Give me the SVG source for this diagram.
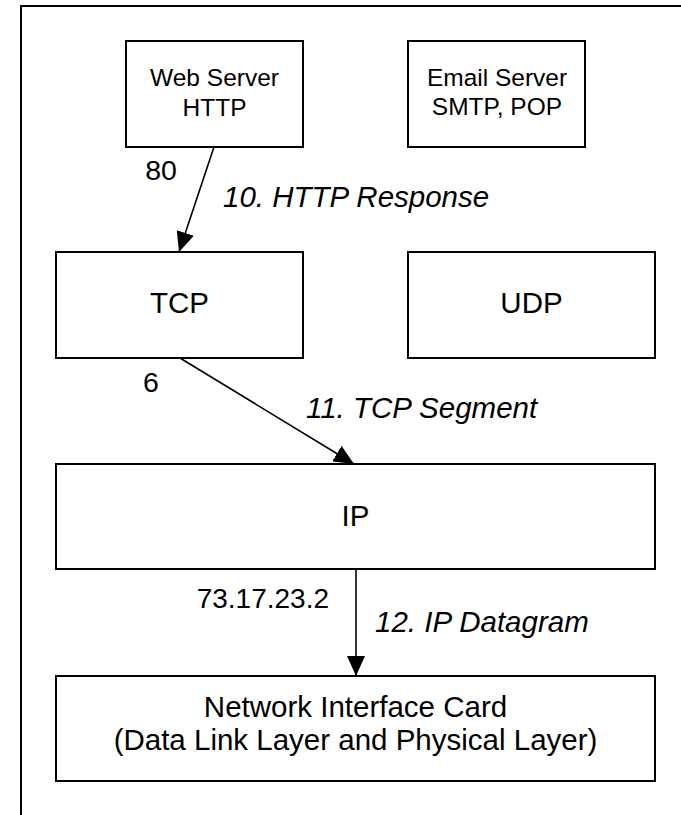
<svg xmlns="http://www.w3.org/2000/svg" width="681" height="815" viewBox="0 0 681 815">
<style>
.box{fill:#fff;stroke:#000;stroke-width:2}
.t{font-family:"Liberation Sans",Arial,sans-serif;fill:#000;text-anchor:middle}
.s24{font-size:24.5px}
.s28{font-size:29.5px}
.n{font-size:28.5px}
.it{font-style:italic;text-anchor:start}
.conn{stroke:#000;stroke-width:1.6;fill:none}
</style>
<defs>
<marker id="ah" markerUnits="userSpaceOnUse" markerWidth="20" markerHeight="18" refX="20" refY="9" orient="auto">
<path d="M0,0 L20,9 L0,18 z" fill="#000"/>
</marker>
</defs>
<rect width="681" height="815" fill="#fff"/>
<g id="frame">
<path d="M21,815 V6 H681" fill="none" stroke="#000" stroke-width="2"/>
</g>
<g id="web-server">
<rect class="box" x="126" y="41" width="177" height="106"/>
<text class="t s24" x="214.5" y="86">Web Server</text>
<text class="t s24" x="214.5" y="116">HTTP</text>
</g>
<g id="email-server">
<rect class="box" x="408" y="41" width="177" height="106"/>
<text class="t s24" x="497" y="86">Email Server</text>
<text class="t s24" x="497" y="115">SMTP, POP</text>
</g>
<g id="tcp">
<rect class="box" x="56" y="252" width="247" height="106"/>
<text class="t s28" x="179.5" y="313">TCP</text>
</g>
<g id="udp">
<rect class="box" x="408" y="252" width="247" height="106"/>
<text class="t s28" x="531.5" y="313">UDP</text>
</g>
<g id="ip">
<rect class="box" x="56" y="464" width="599" height="105"/>
<text class="t s28" x="355.5" y="526">IP</text>
</g>
<g id="nic">
<rect class="box" x="56" y="676" width="599" height="105"/>
<text class="t s28" x="355.5" y="717">Network Interface Card</text>
<text class="t s28" x="355.5" y="750">(Data Link Layer and Physical Layer)</text>
</g>
<g id="connectors">
<line class="conn" x1="214" y1="147" x2="179" y2="252" marker-end="url(#ah)"/>
<line class="conn" x1="180" y1="358" x2="354" y2="464" marker-end="url(#ah)"/>
<line class="conn" x1="356" y1="569" x2="356" y2="676" marker-end="url(#ah)"/>
<text class="t n" x="161" y="180">80</text>
<text class="t s28 it" x="223" y="207">10. HTTP Response</text>
<text class="t n" x="151" y="392">6</text>
<text class="t s28 it" x="306" y="418">11. TCP Segment</text>
<text class="t" x="329" y="608" style="text-anchor:end;font-size:28px">73.17.23.2</text>
<text class="t s28 it" x="375" y="632">12. IP Datagram</text>
</g>
</svg>
